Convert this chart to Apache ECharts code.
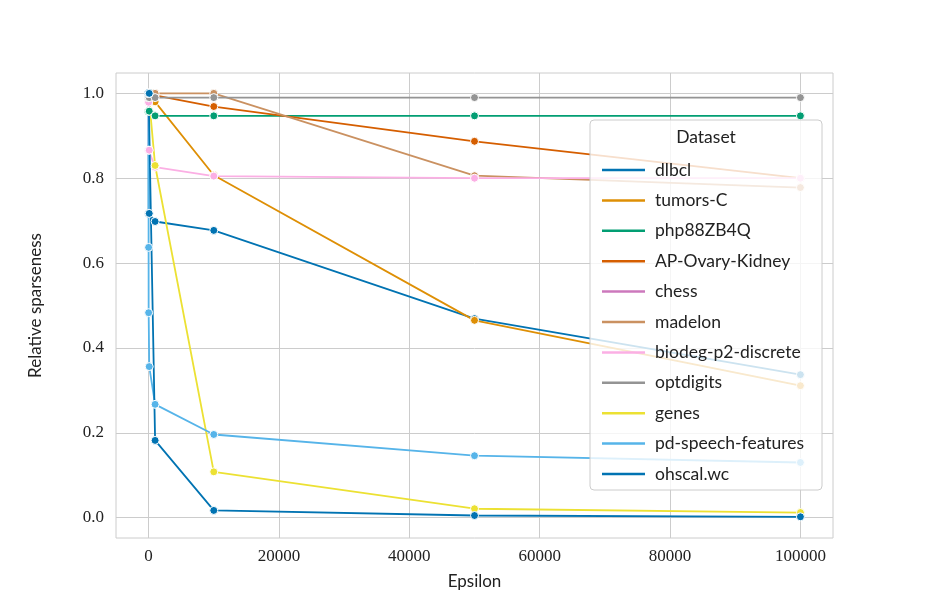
<!DOCTYPE html>
<html>
<head>
<meta charset="utf-8">
<script src="https://cdn.jsdelivr.net/npm/echarts@6/dist/echarts.min.js"></script>
<style>
html,body{margin:0;padding:0;background:#fff;}
#main{width:925px;height:605px;}
</style>
</head>
<body>
<div id="main"></div>
<script>
// epsilon 的取值 (横轴)
var eps = [0.1, 1, 10, 100, 1000, 10000, 50000, 100000];

// 每个数据集的相对稀疏度
var dlbcl        = [1.0, 1.0, 0.717, 0.717, 0.698, 0.677, 0.469, 0.337];
var tumorsC      = [1.0, 1.0, 1.0, 1.0, 0.98, 0.807, 0.465, 0.311];
var php88ZB4Q    = [0.958, 0.958, 0.958, 0.958, 0.947, 0.947, 0.947, 0.947];
var apOvary      = [1.0, 1.0, 1.0, 1.0, 0.995, 0.969, 0.887, 0.80];
var chess        = [1.0, 1.0, 1.0, 1.0, null, null, null, null];
var madelon      = [1.0, 1.0, 1.0, 1.0, 1.0, 1.0, 0.806, 0.778];
var biodeg       = [0.979, 0.979, 0.866, 0.866, 0.826, 0.805, 0.80, 0.80];
var optdigits    = [0.99, 0.99, 0.99, 0.99, 0.99, 0.99, 0.99, 0.99];
var genes        = [1.0, 1.0, 1.0, 1.0, 0.830, 0.108, 0.021, 0.012];
var pdSpeech     = [1.0, 0.637, 0.483, 0.356, 0.267, 0.196, 0.146, 0.130];
var ohscal       = [1.0, 1.0, 1.0, 1.0, 0.182, 0.017, 0.005, 0.002];

var names  = ['dlbcl','tumors-C','php88ZB4Q','AP-Ovary-Kidney','chess','madelon','biodeg-p2-discrete','optdigits','genes','pd-speech-features','ohscal.wc'];
var values = [dlbcl, tumorsC, php88ZB4Q, apOvary, chess, madelon, biodeg, optdigits, genes, pdSpeech, ohscal];
var colors = ['#0173b2','#de8f05','#029e73','#d55e00','#cc78bc','#ca9161','#fbafe4','#949494','#ece133','#56b4e9','#0173b2'];

var xTicks = [0, 20000, 40000, 60000, 80000, 100000];
var yTicks = [0, 0.2, 0.4, 0.6, 0.8, 1.0];

var serif = "'Liberation Serif', 'DejaVu Serif', serif";
var sans  = "Lato, 'Open Sans', sans-serif";

// 拼 series
var series = names.map(function(n, i){
	return {
		name: n,
		type: 'line',
		data: eps.map(function(e, j){ return values[i][j] == null ? null : [e, values[i][j]]; }),
		symbol: 'circle',
		symbolSize: 8,
		showSymbol: true,
		connectNulls: false,
		lineStyle: {width: 1.8, color: colors[i]},
		itemStyle: {color: colors[i], borderColor: '#fff', borderWidth: 1},
		emphasis: {disabled: true},
		z: 2
	};
});

var myChart = echarts.init(document.getElementById('main'));
myChart.setOption({
	animation: false,
	color: colors,
	grid: {left: 116, right: 92, top: 73, bottom: 67, show: true, borderColor: '#cccccc', borderWidth: 1},
	xAxis: {
		type: 'value',
		min: -5000,
		max: 105000,
		name: 'Epsilon',
		nameLocation: 'middle',
		nameGap: 35,
		nameTextStyle: {fontFamily: sans, fontSize: 17, color: '#222'},
		axisLine: {show: false},
		axisTick: {show: false, customValues: xTicks},
		axisLabel: {customValues: xTicks, fontFamily: serif, fontSize: 17, color: '#222', margin: 10,
			formatter: function(v){ return String(v); }},
		splitLine: {show: true, lineStyle: {color: '#cccccc', width: 1}}
	},
	yAxis: {
		type: 'value',
		min: -0.048,
		max: 1.048,
		name: 'Relative sparseness',
		nameLocation: 'middle',
		nameGap: 72,
		nameTextStyle: {fontFamily: sans, fontSize: 17, color: '#222'},
		axisLine: {show: false},
		axisTick: {show: false, customValues: yTicks},
		axisLabel: {customValues: yTicks, fontFamily: serif, fontSize: 17, color: '#222', margin: 12,
			formatter: function(v){ return v.toFixed(1); }},
		splitLine: {show: true, lineStyle: {color: '#cccccc', width: 1}}
	},
	legend: {
		orient: 'vertical',
		left: 597,
		top: 155,
		icon: 'rect',
		itemWidth: 43,
		itemHeight: 2.5,
		itemGap: 10.4,
		data: names,
		itemStyle: {borderWidth: 0},
		textStyle: {fontFamily: sans, fontSize: 17.5, color: '#222', lineHeight: 20, padding: [0, 0, 0, 5]},
		z: 6
	},
	graphic: [
		{type: 'rect', shape: {x: 590, y: 120, width: 232, height: 370, r: 4},
		 style: {fill: 'rgba(255,255,255,0.8)', stroke: '#cccccc', lineWidth: 1}, z: 5, silent: true},
		{type: 'text', x: 706, y: 137, z: 6, silent: true,
		 style: {text: 'Dataset', font: "17.5px " + sans, fill: '#222', textAlign: 'center', textVerticalAlign: 'middle'}}
	],
	series: series
});
</script>
</body>
</html>
